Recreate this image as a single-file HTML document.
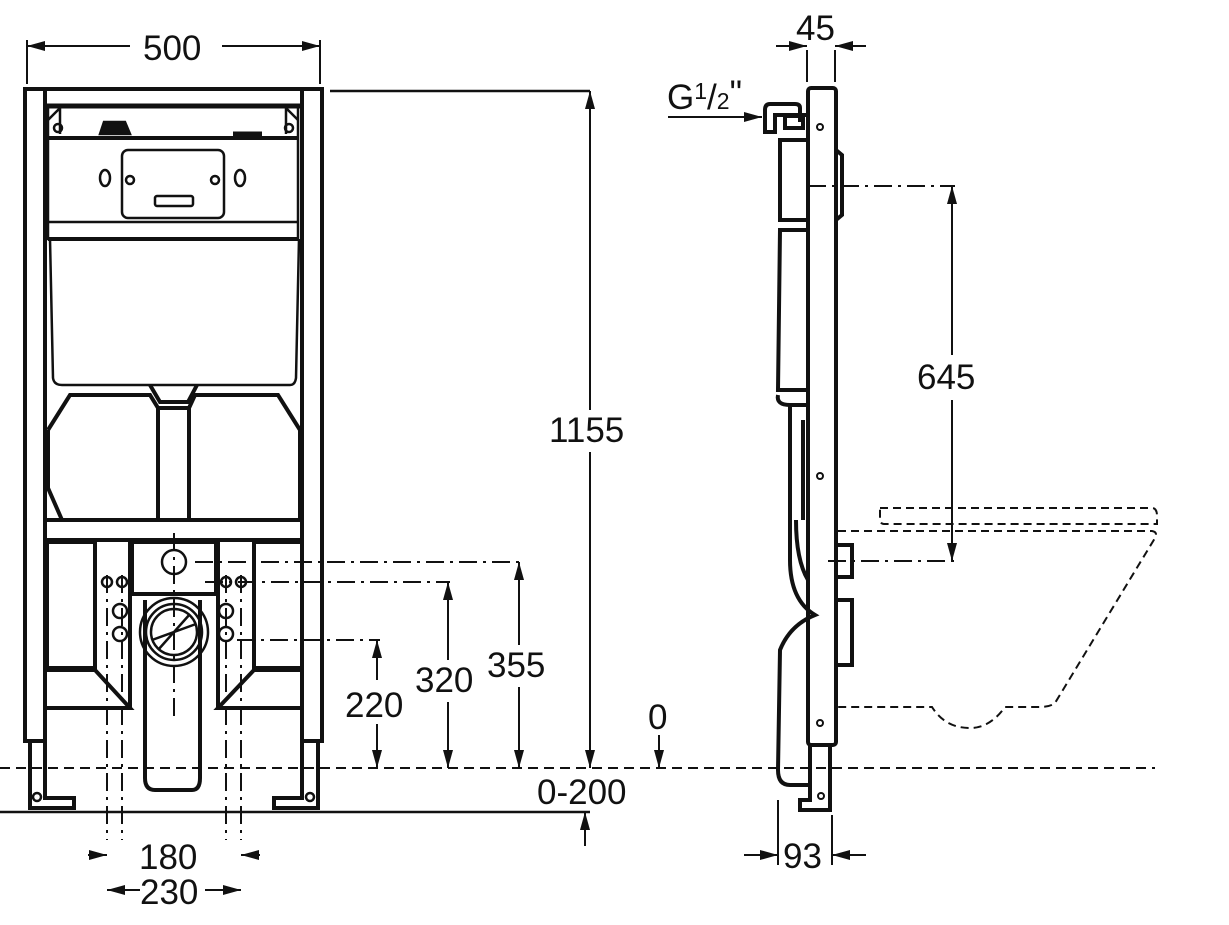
<!DOCTYPE html>
<html><head><meta charset="utf-8"><style>
html,body{margin:0;padding:0;background:#fff;}
svg{display:block}
text{font-family:"Liberation Sans",Arial,sans-serif;fill:#111}
</style></head><body>
<svg width="1229" height="925" viewBox="0 0 1229 925" xmlns="http://www.w3.org/2000/svg">
<defs>
<marker id="a" viewBox="0 0 18 10" refX="18" refY="5" markerWidth="18" markerHeight="10" orient="auto-start-reverse" markerUnits="userSpaceOnUse"><path d="M0,0 L18,5 L0,10 Z" fill="#111"/></marker>
</defs>
<g stroke="#111" fill="none">
<!-- FRONT FRAME -->
<g stroke-width="4">
<rect x="25" y="89" width="20" height="652"/>
<rect x="302" y="89" width="20" height="652"/>
<line x1="45" y1="89" x2="302" y2="89"/>
<line x1="45" y1="106" x2="302" y2="106" stroke-width="5"/>
<line x1="48" y1="138" x2="298" y2="138"/>
<line x1="48" y1="222" x2="298" y2="222" stroke-width="2.5"/>
<line x1="48" y1="239" x2="298" y2="239"/>
<rect x="48" y="106" width="250" height="133" stroke-width="2.5"/>
<path d="M50 239 L53 378 Q54 385 62 385 L290 385 Q295 385 296 378 L299 239" stroke-width="2.5"/>
<line x1="45" y1="520" x2="302" y2="520"/>
<line x1="45" y1="540" x2="302" y2="540"/>
<path d="M48 430 L70 395 L150 395 L158 408 L158 520 M48 430 L48 488 L62 520"/>
<path d="M300 430 L278 395 L195 395 L189 408 L189 520 M300 430 L300 520"/>
<path d="M150 385 L160 402 L188 402 L197 385"/>
<line x1="158" y1="408" x2="189" y2="408"/>
<rect x="47" y="542" width="48" height="126"/>
<rect x="254" y="542" width="48" height="126"/>
<path d="M45 670 L95 670 L130 708 L45 708"/>
<path d="M302 670 L254 670 L218 708 L302 708"/>
<line x1="130" y1="540" x2="130" y2="708"/>
<line x1="218" y1="540" x2="218" y2="708"/>
<path d="M145 600 L145 778 Q145 790 155 790 L192 790 Q200 790 200 778 L200 600"/>
<rect x="132" y="542" width="84" height="52"/>
<path d="M30 741 L30 808 L74 808 L74 798 L45 798 L45 741"/>
<path d="M318 741 L318 808 L274 808 L274 798 L302 798 L302 741"/>
</g>
<g stroke-width="2.5">
<circle cx="58" cy="128" r="4"/><circle cx="289" cy="128" r="4"/>
<rect x="122" y="150" width="102" height="68" rx="6"/>
<ellipse cx="105" cy="178" rx="5" ry="8"/><ellipse cx="240" cy="178" rx="5" ry="8"/>
<circle cx="130" cy="180" r="4"/><circle cx="215" cy="180" r="4"/>
<rect x="155" y="196" width="38" height="10" rx="2"/>
<path d="M100 134 L104 122 L125 122 L130 134 Z" fill="#111"/>
<path d="M233 134 L262 134" stroke-width="5"/>
<circle cx="174" cy="562" r="12"/>
<circle cx="174" cy="632" r="34"/><circle cx="174" cy="632" r="28"/><circle cx="174" cy="632" r="23"/>
<path d="M158 650 L190 614 M152 640 L196 624"/>
<circle cx="107" cy="582" r="5"/><circle cx="122" cy="582" r="5"/>
<circle cx="226" cy="582" r="5"/><circle cx="241" cy="582" r="5"/>
<circle cx="120" cy="611" r="7"/><circle cx="120" cy="634" r="7"/>
<circle cx="226" cy="611" r="7"/><circle cx="226" cy="634" r="7"/>
<circle cx="37" cy="797" r="4"/><circle cx="310" cy="797" r="4"/>
<path d="M48 120 L60 108 L60 134 M298 120 L286 108 L286 134"/>
<path d="M48 430 L60 412 M300 430 L288 412"/>
</g>
<g stroke-width="2" stroke-dasharray="18,6,3,6">
<line x1="107" y1="575" x2="107" y2="840"/><line x1="122" y1="575" x2="122" y2="840"/>
<line x1="226" y1="575" x2="226" y2="840"/><line x1="241" y1="575" x2="241" y2="840"/>
<line x1="174" y1="533" x2="174" y2="720"/>
<line x1="195" y1="562" x2="520" y2="562"/>
<line x1="205" y1="582" x2="450" y2="582"/>
<line x1="237" y1="640" x2="380" y2="640"/>
<line x1="808" y1="186" x2="955" y2="186"/>
<line x1="828" y1="561" x2="955" y2="561"/>
</g>
<line x1="0" y1="768" x2="1155" y2="768" stroke-width="2" stroke-dasharray="10,6"/>
<line x1="0" y1="812" x2="590" y2="812" stroke-width="2.5"/>
<line x1="330" y1="91" x2="590" y2="91" stroke-width="2.5"/>
<!-- SIDE VIEW -->
<g stroke-width="4">
<rect x="808" y="88" width="28" height="657" rx="3"/>
<path d="M810 745 L810 800 L800 800 L800 810 L830 810 L830 745"/>
<path d="M836 150 L842 155 L842 215 L836 220"/>
<path d="M800 122 L800 108 Q800 104 795 104 L770 104 Q765 104 765 110 L765 132 L775 132 L775 115 L808 115"/>
<rect x="785" y="116" width="18" height="12"/>
<path d="M808 140 L780 140 L780 220 L808 220"/>
<path d="M808 230 L780 230 L778 390 L808 390"/>
<path d="M778 395 Q776 405 790 405 L808 405"/>
<path d="M790 405 L790 560 Q790 600 815 615 Q790 625 780 650 L778 770 Q778 785 790 785 L808 785"/>
<path d="M803 420 L803 520 M796 520 Q796 560 808 580"/>
<rect x="836" y="545" width="16" height="32"/>
<rect x="836" y="600" width="16" height="65"/>
</g>
<g stroke-width="2">
<circle cx="820" cy="127" r="3"/><circle cx="820" cy="476" r="3"/><circle cx="820" cy="723" r="3"/><circle cx="821" cy="796" r="3"/>
</g>
<g stroke-width="2" stroke-dasharray="8,5">
<path d="M880 508 L1152 508 Q1157 508 1157 516 L1157 524 L884 524 Q880 524 880 518 Z"/>
<path d="M838 531 L1152 531 Q1158 532 1155 538 L1055 703 Q1050 707 1040 707 L1005 707 Q990 728 970 728 Q945 728 932 707 L838 707"/>
</g>
<g stroke-width="2">
<line x1="27" y1="40" x2="27" y2="84"/><line x1="320" y1="40" x2="320" y2="84"/>
<line x1="27" y1="46" x2="130" y2="46" marker-start="url(#a)"/><line x1="222" y1="46" x2="320" y2="46" marker-end="url(#a)"/>
<line x1="590" y1="91" x2="590" y2="410" marker-start="url(#a)"/><line x1="590" y1="452" x2="590" y2="768" marker-end="url(#a)"/>
<line x1="519" y1="562" x2="519" y2="645" marker-start="url(#a)"/><line x1="519" y1="687" x2="519" y2="768" marker-end="url(#a)"/>
<line x1="448" y1="582" x2="448" y2="660" marker-start="url(#a)"/><line x1="448" y1="702" x2="448" y2="768" marker-end="url(#a)"/>
<line x1="377" y1="640" x2="377" y2="680" marker-start="url(#a)"/><line x1="377" y1="724" x2="377" y2="768" marker-end="url(#a)"/>
<line x1="659" y1="735" x2="659" y2="768" marker-end="url(#a)"/>
<line x1="585" y1="846" x2="585" y2="812" marker-end="url(#a)"/>
<line x1="952" y1="186" x2="952" y2="355" marker-start="url(#a)"/><line x1="952" y1="400" x2="952" y2="561" marker-end="url(#a)"/>
<line x1="88" y1="855" x2="107" y2="855" marker-end="url(#a)"/><line x1="260" y1="855" x2="241" y2="855" marker-end="url(#a)"/>
<line x1="107" y1="890" x2="140" y2="890" marker-start="url(#a)"/><line x1="205" y1="890" x2="241" y2="890" marker-end="url(#a)"/>
<line x1="776" y1="46" x2="807" y2="46" marker-end="url(#a)"/><line x1="866" y1="46" x2="835" y2="46" marker-end="url(#a)"/>
<line x1="807" y1="50" x2="807" y2="82"/><line x1="835" y1="50" x2="835" y2="82"/>
<line x1="668" y1="117" x2="762" y2="117" marker-end="url(#a)"/>
<line x1="744" y1="855" x2="778" y2="855" marker-end="url(#a)"/><line x1="866" y1="855" x2="832" y2="855" marker-end="url(#a)"/>
<line x1="778" y1="800" x2="778" y2="865"/><line x1="832" y1="815" x2="832" y2="865"/>
</g>
</g>
<g font-size="35">
<text x="143" y="60">500</text>
<text x="549" y="442">1155</text>
<text x="487" y="677">355</text>
<text x="415" y="692">320</text>
<text x="345" y="717">220</text>
<text x="648" y="729">0</text>
<text x="537" y="804">0-200</text>
<text x="139" y="869">180</text>
<text x="140" y="904">230</text>
<text x="917" y="389">645</text>
<text x="796" y="40">45</text>
<text x="783" y="868">93</text>
<text x="667" y="109">G<tspan font-size="23" dy="-10">1</tspan><tspan dy="10">/</tspan><tspan font-size="23">2</tspan><tspan dy="-4">"</tspan></text>
</g>
</svg>
</body></html>
